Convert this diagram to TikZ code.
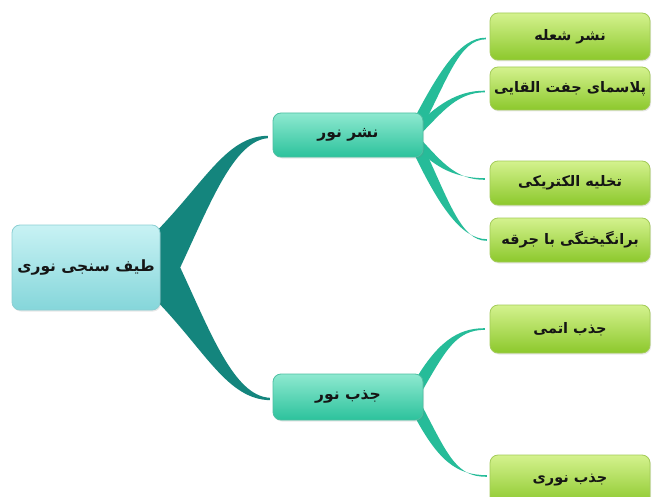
\documentclass[tikz,border=0pt]{standalone}
\usepackage{fontspec}
\newfontfamily\arabicfont[Script=Arabic]{DejaVu Sans}
\TeXXeTstate=1
\usetikzlibrary{calc,shadows}
\definecolor{rootfillT}{HTML}{C8F2F4}
\definecolor{rootfillB}{HTML}{85D6DA}
\definecolor{rootdraw}{HTML}{8CCFD3}
\definecolor{midfillT}{HTML}{8EE9D0}
\definecolor{midfillB}{HTML}{2CC29C}
\definecolor{middraw}{HTML}{4DBFA2}
\definecolor{leaffillT}{HTML}{D4F28E}
\definecolor{leaffillB}{HTML}{8CC82C}
\definecolor{leafdraw}{HTML}{A3CB58}
\definecolor{rootarm}{HTML}{14857D}
\definecolor{fanarm}{HTML}{26BC99}
\definecolor{txt}{HTML}{151515}
% #1 start, #2 end, #3 half-width vector, #4 start control offset, #5 end control dx, #6 style
\newcommand\fanarm[6]{%
\fill[#6] ($(#1)-#3$) .. controls ($(#1)+#4-#3$) and ($(#2)+(-#5,-1)$) .. ($(#2)+(0,-0.8)$) -- ($(#2)+(0,0.8)$) .. controls ($(#2)+(-#5,1)$) and ($(#1)+#4+#3$) .. ($(#1)+#3$) -- cycle;}
\begin{document}
\begin{tikzpicture}[x=1pt,y=-1pt,
  boxbase/.style={rounded corners=8pt, line width=0.8pt, text=txt, inner sep=2pt,
    font=\arabicfont\bfseries\fontsize{14.5}{16}\selectfont,
    drop shadow={shadow xshift=1pt, shadow yshift=-1.5pt, opacity=0.18}},
  rootbox/.style={boxbase, draw=rootdraw, top color=rootfillT, bottom color=rootfillB,
    minimum width=148pt, minimum height=85pt, font=\arabicfont\bfseries\fontsize{15.5}{18}\selectfont},
  midbox/.style={boxbase, draw=middraw, top color=midfillT, bottom color=midfillB,
    minimum width=150pt, minimum height=44pt, font=\arabicfont\bfseries\fontsize{15.5}{18}\selectfont},
  leafbox/.style={boxbase, draw=leafdraw, top color=leaffillT, bottom color=leaffillB,
    minimum width=160pt, minimum height=44pt}
]
\useasboundingbox (0,0) rectangle (652,497);
\fill[white] (0,0) rectangle (652,497);
\clip (0,0) rectangle (652,497);

% coordinates of node centres
\coordinate (pr) at (86,267.5);
\coordinate (pm1) at (348,135);
\coordinate (pm2) at (348,397);

% guide nodes (same size as the boxes) for anchors
\path (pr) node[minimum width=148pt, minimum height=85pt] (rootg) {};
\path (pm1) node[minimum width=150pt, minimum height=44pt] (m1g) {};
\path (pm2) node[minimum width=150pt, minimum height=46pt] (m2g) {};

% connectors: root to middle boxes
\coordinate (rA) at ($(rootg.east)+(-2,-38)$);
\coordinate (rN) at ($(rootg.east)+(20,0)$);
\coordinate (rB) at ($(rootg.east)+(-2,35)$);
\coordinate (e1) at ($(m1g.west)+(-5,2)$);
\coordinate (e2) at ($(m2g.west)+(-3,2)$);
\fill[rootarm] (rA) .. controls ($(rA)+(48,-50)$) and ($(e1)+(-40,-1)$) .. ($(e1)+(0,-1.2)$)
  -- ($(e1)+(0,1.2)$) .. controls ($(e1)+(-34,4)$) and ($(rN)+(30,-64)$) .. (rN)
  .. controls ($(rN)+(30,64)$) and ($(e2)+(-36,-3)$) .. ($(e2)+(0,-1.2)$)
  -- ($(e2)+(0,1.2)$) .. controls ($(e2)+(-42,0)$) and ($(rB)+(48,50)$) .. (rB) -- cycle;

% leaf positions
\coordinate (pl1) at (570,36.5);
\coordinate (pl2) at (570,88.5);
\coordinate (pl3) at (570,183);
\coordinate (pl4) at (570,240);
\coordinate (pl5) at (570,329);
\coordinate (pl6) at (570,480);
\path (pl1) node[minimum width=160pt, minimum height=47pt] (l1g) {};
\path (pl2) node[minimum width=160pt, minimum height=43pt] (l2g) {};
\path (pl3) node[minimum width=160pt, minimum height=44pt] (l3g) {};
\path (pl4) node[minimum width=160pt, minimum height=44pt] (l4g) {};
\path (pl5) node[minimum width=160pt, minimum height=48pt] (l5g) {};
\path (pl6) node[minimum width=160pt, minimum height=50pt] (l6g) {};

% fan from first middle box
\fanarm{$(m1g.east)+(-6,-10)$}{$(l1g.west)+(-4,2)$}{(5,2.6)}{(26,-50)}{26}{fanarm}
\fanarm{$(m1g.east)+(-6,-4)$}{$(l2g.west)+(-5,3)$}{(3.2,3.2)}{(22,-22)}{28}{fanarm}
\fanarm{$(m1g.east)+(-6,7)$}{$(l3g.west)+(-5,-4)$}{(3.3,-3.1)}{(22,24)}{28}{fanarm}
\fanarm{$(m1g.east)+(-6,12)$}{$(l4g.west)+(-3,0)$}{(5.2,-2.5)}{(26,55)}{26}{fanarm}
% fan from second middle box
\fanarm{$(m2g.east)+(-6,-9)$}{$(l5g.west)+(-5,0)$}{(5,2.9)}{(24,-42)}{28}{fanarm}
\fanarm{$(m2g.east)+(-6,12)$}{$(l6g.west)+(-3,-4)$}{(5.1,-2.7)}{(26,50)}{30}{fanarm}

% boxes
\node[rootbox] (root) at (pr) {\beginR طیف سنجی نوری\endR};
\node[midbox] (m1) at (pm1) {\beginR نشر نور\endR};
\node[midbox, minimum height=46pt] (m2) at (pm2) {\beginR جذب نور\endR};
\node[leafbox, minimum height=47pt] (l1) at (pl1) {\beginR نشر شعله\endR};
\node[leafbox, minimum height=43pt] (l2) at (pl2) {\beginR پلاسمای جفت القایی\endR};
\node[leafbox] (l3) at (pl3) {\beginR تخلیه الکتریکی\endR};
\node[leafbox] (l4) at (pl4) {\beginR برانگیختگی با جرقه\endR};
\node[leafbox, minimum height=48pt] (l5) at (pl5) {\beginR جذب اتمی\endR};
\node[leafbox, minimum height=50pt] (l6) at (pl6) {\beginR جذب نوری\endR};
\end{tikzpicture}
\end{document}
